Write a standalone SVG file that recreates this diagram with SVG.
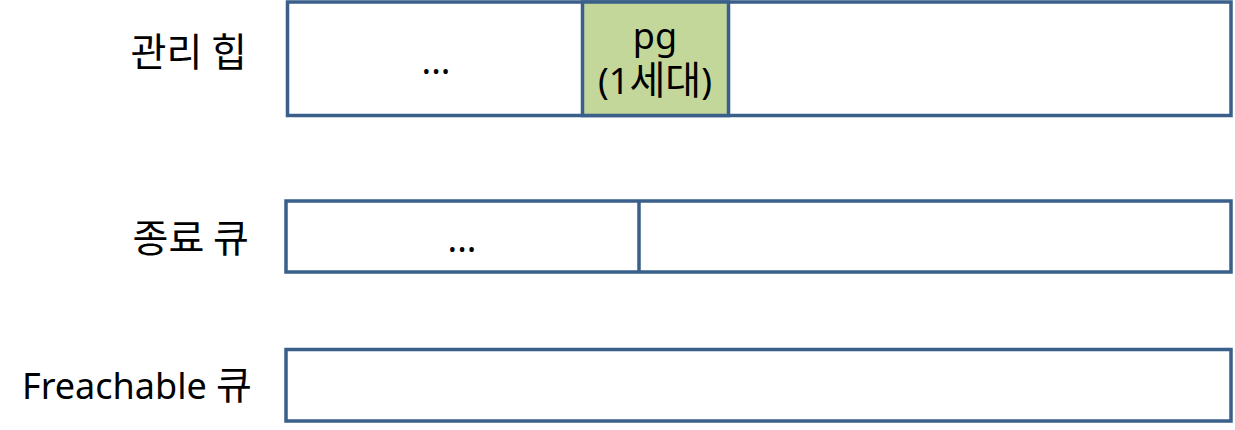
<svg xmlns="http://www.w3.org/2000/svg" width="1235" height="430" viewBox="0 0 1235 430">
<style>
.box{fill:#ffffff;stroke:#3a5f8b;stroke-width:3.5}
.div{stroke:#3a5f8b;stroke-width:3.5}
.green{fill:#c4d79b;stroke:#3a5f8b;stroke-width:3.5}
text{font-family:"Noto Sans","Noto Sans CJK KR",sans-serif;font-size:36px;fill:#000}
.k{font-family:"Noto Sans CJK KR",sans-serif;font-size:39px}
.lbl{text-anchor:end}
.mid{text-anchor:middle}
</style>
<rect width="1235" height="430" fill="#ffffff"/>
<g id="heap">
<rect class="box" x="287.5" y="2" width="943.5" height="113.5"/>
<rect class="green" x="582.5" y="2" width="146" height="113.5"/>
<text class="lbl k" x="247" y="66">관리 힙</text>
<text class="mid" x="436" y="74">...</text>
<text class="mid" x="655" y="49">pg</text>
<text class="mid" x="655" y="94">(1<tspan class="k">세대</tspan>)</text>
</g>
<g id="finalq">
<rect class="box" x="286" y="201" width="945" height="71"/>
<line class="div" x1="639" y1="201" x2="639" y2="272"/>
<text class="lbl k" x="249" y="252">종료 큐</text>
<text class="mid" x="462" y="252">...</text>
</g>
<g id="freachq">
<rect class="box" x="286" y="349.5" width="945" height="71.5"/>
<text class="lbl" x="252" y="399">Freachable <tspan class="k">큐</tspan></text>
</g>
<g id="connectors"></g>
</svg>
